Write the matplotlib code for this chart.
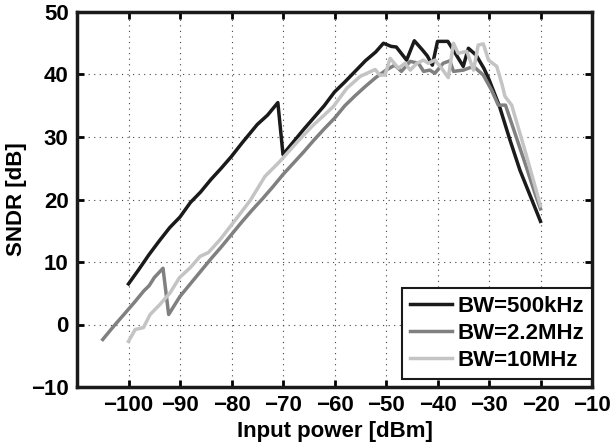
import numpy as np
import matplotlib.pyplot as plt

plt.rcParams['font.family'] = 'Liberation Sans'
plt.rcParams['font.weight'] = 'bold'
plt.rcParams['axes.labelweight'] = 'bold'

# BW = 500 kHz
x_500k = [-100, -98, -96, -94, -92, -90, -88, -86, -84, -82, -80, -78, -76,
          -75, -73, -71, -70, -68, -66, -64, -62, -60, -58, -56, -54, -52,
          -50.5, -49, -48, -46, -44.5, -43, -42, -41, -40, -38, -37, -35,
          -34, -32.5, -31, -30, -28, -26, -24, -22, -20]
y_500k = [6.5, 8.8, 11.2, 13.4, 15.5, 17.2, 19.5, 21.2, 23.2, 25.0, 26.9,
          29.0, 31.0, 32.0, 33.5, 35.5, 27.2, 29.2, 31.2, 33.1, 35.0, 37.2,
          38.8, 40.5, 42.2, 43.6, 45.0, 44.5, 44.4, 42.3, 45.4, 44.0, 43.0,
          41.5, 45.3, 45.3, 44.0, 41.3, 44.2, 43.1, 41.0, 39.2, 35.0, 29.7,
          24.7, 20.6, 16.5]

# BW = 2.2 MHz
x_2m2 = [-105, -103, -101, -99, -97, -96, -95, -93.3, -92.2, -90, -88, -86,
         -84, -82, -80, -78, -76, -74, -72, -70, -68, -66, -64, -62, -60,
         -58, -56, -54, -52, -50, -48.3, -47, -45.3, -43.7, -42.7, -41.5,
         -40.5, -38.9, -37.6, -36.9, -35, -33, -31.1, -29.5, -28.2, -26.8,
         -25, -23, -21, -20]
y_2m2 = [-2.4, -0.4, 1.5, 3.4, 5.4, 6.2, 7.5, 9.0, 1.6, 4.5, 6.5, 8.5, 10.5,
         12.4, 14.4, 16.4, 18.3, 20.1, 22.0, 24.0, 25.8, 27.6, 29.5, 31.3,
         33.0, 35.0, 36.6, 38.1, 39.5, 40.7, 41.5, 40.5, 42.1, 41.8, 40.5,
         40.7, 40.2, 41.8, 42.2, 40.5, 40.7, 41.3, 39.9, 37.5, 35.1, 35.1,
         30.7, 25.8, 20.8, 18.5]

# BW = 10 MHz
x_10m = [-100, -98.7, -97.1, -95.8, -93.9, -91.9, -90.1, -88, -86.1, -84.5,
         -82.2, -79, -76.4, -73.5, -70.6, -68, -66, -64, -62, -60.2, -57.6,
         -55, -52.1, -51.2, -50.2, -49.2, -47.6, -46.3, -45.3, -44, -42.7,
         -41.8, -40.5, -39.2, -37.9, -36.9, -36, -34.3, -33, -32.1, -31.1,
         -30.1, -28.5, -27.5, -26.9, -25.6, -23, -20]
y_10m = [-2.7, -0.8, -0.5, 1.6, 3.2, 5.1, 7.5, 9.1, 10.9, 11.5, 13.6, 17.0,
         19.8, 23.7, 26.1, 28.5, 30.3, 32.0, 33.5, 34.9, 37.8, 39.7, 40.8,
         39.9, 39.9, 42.6, 41.0, 41.8, 40.7, 41.8, 42.3, 41.8, 42.3, 41.0,
         39.5, 45.0, 43.4, 43.7, 40.7, 44.7, 44.9, 42.3, 41.3, 38.5, 36.5,
         35.1, 27.8, 19.0]

fs = 16

fig = plt.figure(figsize=(6.13, 4.48), dpi=100)
ax = fig.add_axes([77/613, 1-387/448, 515/613, 375/448])

ax.plot(x_500k, y_500k, color='#1a1a1a', lw=2.5, label='BW=500kHz')
ax.plot(x_2m2, y_2m2, color='#808080', lw=2.5, label='BW=2.2MHz')
ax.plot(x_10m, y_10m, color='#c4c4c4', lw=2.5, label='BW=10MHz')

ax.set_xlim(-110, -10)
ax.set_ylim(-10, 50)
ax.set_xticks(np.arange(-100, -9, 10))
ax.set_yticks(np.arange(-10, 51, 10))
ax.grid(True, linestyle=(0, (1, 4)), color='#444444', lw=0.8)
ax.tick_params(direction='in', top=True, right=True, length=5, width=2,
               labelsize=fs, pad=6)
for s in ax.spines.values():
    s.set_linewidth(2.5)
    s.set_color('#1a1a1a')

ax.set_xlabel('Input power [dBm]', fontsize=fs, fontweight='bold', labelpad=3)
ax.set_ylabel('SNDR [dB]', fontsize=fs, fontweight='bold', labelpad=3)

leg = ax.legend(loc='lower right', bbox_to_anchor=(1.0, 8/375),
                borderaxespad=0, fontsize=fs,
                fancybox=False, framealpha=1, handlelength=1.9,
                handletextpad=0.25, labelspacing=0.28, borderpad=0.35)
for t in leg.get_texts():
    t.set_fontweight('bold')
leg.get_frame().set_edgecolor('#1a1a1a')
leg.get_frame().set_linewidth(1.5)

fig.savefig('out.png', dpi=100)
